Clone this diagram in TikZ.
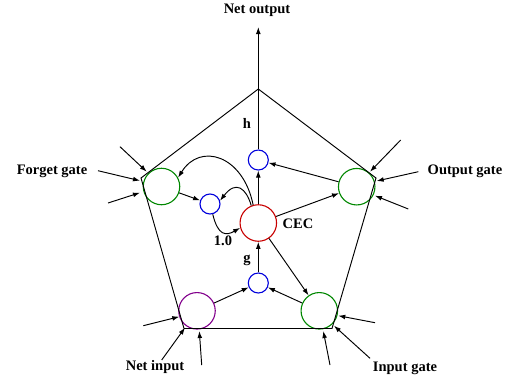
\documentclass[tikz,border=0pt]{standalone}
\usepackage{fontspec}
\setmainfont{Liberation Serif}
\usetikzlibrary{arrows.meta}
\definecolor{gategreen}{RGB}{0,135,0}
\definecolor{cecred}{RGB}{200,0,0}
\definecolor{smallblue}{RGB}{0,0,220}
\definecolor{inpurple}{RGB}{130,0,140}
\begin{document}
\begin{tikzpicture}[x=1pt,y=-1pt,line width=0.95pt,
  bigunit/.style={circle,draw,minimum size=36.5pt,inner sep=0pt,line width=1.1pt},
  smallunit/.style={circle,draw=smallblue,minimum size=20pt,inner sep=0pt,line width=1.1pt},
  arr/.style={-{Latex[length=7pt,width=4.8pt]}},
  lbl/.style={font=\fontsize{14.5}{16}\selectfont\bfseries,inner sep=0pt}]
\useasboundingbox (0,0) rectangle (513,383);
% units
\node[bigunit,draw=gategreen] (fg) at (161.5,186.5) {};
\node[smallunit] (fb) at (210,204) {};
\node[bigunit,draw=cecred] (cec) at (258.3,223) {};
\node[smallunit] (h) at (258.3,160) {};
\node[bigunit,draw=gategreen] (og) at (356.7,186.7) {};
\node[smallunit] (g) at (258.3,283) {};
\node[bigunit,draw=inpurple] (ni) at (197,310.8) {};
\node[bigunit,draw=gategreen] (ig) at (319.3,310.8) {};
% pentagon
\coordinate (pT) at (258.3,89);
\coordinate (pR) at (376,178);
\coordinate (pBR) at (332,328.5);
\coordinate (pBL) at (184,328.5);
\coordinate (pL) at (141,178);
\draw (pT) -- (pR) -- (pBR) -- (pBL) -- (pL) -- cycle;
% labels
\node[lbl] (lout) at (257,10) {Net output};
\node[lbl] (lfg) at (52,171) {Forget gate};
\node[lbl] (log) at (465,171) {Output gate};
\node[lbl] (lni) at (155,367) {Net input};
\node[lbl] (lig) at (405,368) {Input gate};
\node[lbl] (lcec) at (298,224) {CEC};
\node[lbl] (lh) at (247,123) {h};
\node[lbl] (lg) at (247,260) {g};
\node[lbl] (lone) at (223,241) {1.0};
% internal connections
\coordinate (out) at (258.3,27);
\draw[arr] (h) -- (out);
\draw[arr] (cec) -- (h);
\draw[arr] (og) -- (h);
\draw[arr] (cec) -- (og);
\draw[arr] (cec) -- (ig);
\draw[arr] (g) -- (cec);
\draw[arr] (ni) -- (g);
\draw[arr] (ig) -- (g);
\draw[arr] (fg) -- (fb);
\draw[arr] (fb.-75) .. controls (218,236) and (226,236) .. (cec.195);
\draw[arr] (cec.112) .. controls (246,188) and (236,180) .. (fb.18);
\draw[arr] (cec.106) .. controls (243,155) and (200,142) .. (fg.28);
% external inputs
\coordinate (f1) at (120,146.7);
\coordinate (f2) at (98,170.7);
\coordinate (f3) at (108,203);
\coordinate (ft1) at (146.7,171.7);
\coordinate (ft2) at (140,180.7);
\coordinate (ft3) at (140,192.7);
\draw[arr] (f1) -- (ft1);
\draw[arr] (f2) -- (ft2);
\draw[arr] (f3) -- (ft3);
\coordinate (o1) at (400.7,140);
\coordinate (o2) at (418.3,171.7);
\coordinate (o3) at (408.3,209);
\coordinate (ot1) at (370,171.7);
\coordinate (ot2) at (376.7,181);
\coordinate (ot3) at (375,195.7);
\draw[arr] (o1) -- (ot1);
\draw[arr] (o2) -- (ot2);
\draw[arr] (o3) -- (ot3);
\coordinate (n1) at (143.3,325.7);
\coordinate (n2) at (161.7,360);
\coordinate (n3) at (201.7,365);
\coordinate (nt1) at (179.3,316.7);
\coordinate (nt2) at (185,327.7);
\coordinate (nt3) at (199.3,331);
\draw[arr] (n1) -- (nt1);
\draw[arr] (n2) -- (nt2);
\draw[arr] (n3) -- (nt3);
\coordinate (i1) at (375,322.7);
\coordinate (i2) at (370,358.3);
\coordinate (i3) at (330,365);
\coordinate (it1) at (338.3,315.7);
\coordinate (it2) at (334,325.7);
\coordinate (it3) at (323.3,331);
\draw[arr] (i1) -- (it1);
\draw[arr] (i2) -- (it2);
\draw[arr] (i3) -- (it3);
\end{tikzpicture}
\end{document}
